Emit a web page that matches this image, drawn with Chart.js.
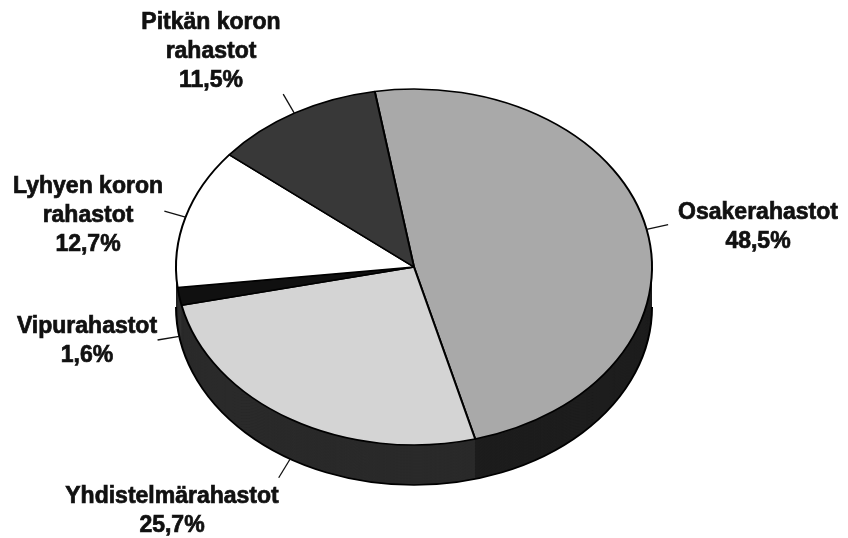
<!DOCTYPE html>
<html>
<head>
<meta charset="utf-8">
<script src="https://cdn.jsdelivr.net/npm/chart.js@4.4.1/dist/chart.umd.min.js"></script>
<style>
  html, body { margin: 0; padding: 0; background: #fff; }
  canvas { display: block; }
</style>
</head>
<body>
<canvas id="chartContainer" width="848" height="538"></canvas>
<script>
// Fund shares in %
var categories = ["Osakerahastot", "Yhdistelmärahastot", "Vipurahastot", "Lyhyen koron rahastot", "Pitkän koron rahastot"];
var shares = [48.5, 25.7, 1.6, 12.7, 11.5];
var labelLines = [["Osakerahastot"], ["Yhdistelmärahastot"], ["Vipurahastot"], ["Lyhyen koron", "rahastot"], ["Pitkän koron", "rahastot"]];

var topColors = ["#a9a9a9", "#d4d4d4", "#101010", "#ffffff", "#383838"];
var sideColors = ["#1d1d1d", "#2a2a2a", "#303030", "#222222", "#222222"];

// label anchors: centre x, first line y
var labelX = [758, 172, 87, 88, 211];
var labelY = [213, 497, 327, 187, 23];
var LINE_H = 29;

var TILT = 178 / 238;   // vertical squash of the pie
var DEPTH = 40;         // height of the side wall, px

function tilt(ctx, arc) {
    ctx.translate(arc.x, arc.y);
    ctx.scale(1, TILT);
    ctx.translate(-arc.x, -arc.y);
}

function slicePath(ctx, arc, dy) {
    ctx.beginPath();
    ctx.moveTo(arc.x, arc.y + dy);
    ctx.arc(arc.x, arc.y + dy, arc.outerRadius, arc.startAngle, arc.endAngle);
    ctx.closePath();
}

var pie3d = {
    id: "pie3d",
    beforeDatasetsDraw: function(chart) {
        var ctx = chart.ctx;
        var arcs = chart.getDatasetMeta(0).data;
        var depth = DEPTH / TILT;
        ctx.save();
        tilt(ctx, arcs[0]);
        // side wall: stack the slice shapes downwards
        for (var d = depth; d > 0; d -= 1) {
            for (var i = 0; i < arcs.length; i++) {
                slicePath(ctx, arcs[i], d);
                ctx.fillStyle = sideColors[i];
                ctx.fill();
            }
        }
        // bottom rim
        var a0 = arcs[0];
        ctx.beginPath();
        ctx.arc(a0.x, a0.y + depth, a0.outerRadius, 0, Math.PI);
        ctx.lineWidth = 2;
        ctx.strokeStyle = "#000";
        ctx.stroke();
        // top face is drawn by chart.js inside this transform
    },
    afterDatasetsDraw: function(chart) {
        chart.ctx.restore();
    }
};

var pieLabels = {
    id: "pieLabels",
    afterDraw: function(chart) {
        var ctx = chart.ctx;
        var arcs = chart.getDatasetMeta(0).data;
        ctx.save();
        for (var i = 0; i < arcs.length; i++) {
            var arc = arcs[i];
            var a = (arc.startAngle + arc.endAngle) / 2;
            var x0 = arc.x + arc.outerRadius * Math.cos(a);
            var y0 = arc.y + arc.outerRadius * Math.sin(a) * TILT;
            if (Math.sin(a) > 0) y0 += DEPTH;   // front slices: start at the rim
            ctx.beginPath();
            ctx.moveTo(x0, y0);
            ctx.lineTo(x0 + 22 * Math.cos(a), y0 + 22 * Math.sin(a));
            ctx.lineWidth = 1.3;
            ctx.strokeStyle = "#111";
            ctx.stroke();

            var lines = labelLines[i].concat([shares[i].toFixed(1).replace(".", ",") + "%"]);
            ctx.font = "bold 23px 'Liberation Sans', Arial, sans-serif";
            ctx.fillStyle = "#111";
            ctx.strokeStyle = "#111";
            ctx.lineWidth = 0.7;
            ctx.textAlign = "center";
            ctx.textBaseline = "middle";
            for (var j = 0; j < lines.length; j++) {
                ctx.fillText(lines[j], labelX[i], labelY[i] + j * LINE_H);
                ctx.strokeText(lines[j], labelX[i], labelY[i] + j * LINE_H);
            }
        }
        ctx.restore();
    }
};

var chart = new Chart(document.getElementById("chartContainer"), {
    type: "pie",
    data: {
        labels: categories,
        datasets: [{
            data: shares,
            backgroundColor: topColors,
            borderColor: "#000",
            borderWidth: 2,
            radius: 238,
            clip: false
        }]
    },
    options: {
        responsive: false,
        animation: false,
        events: [],
        rotation: -9.5,
        layout: { padding: { left: 0, right: 20, top: 0, bottom: 4 } },
        plugins: {
            legend: { display: false },
            tooltip: { enabled: false }
        }
    },
    plugins: [pie3d, pieLabels]
});
</script>
</body>
</html>
